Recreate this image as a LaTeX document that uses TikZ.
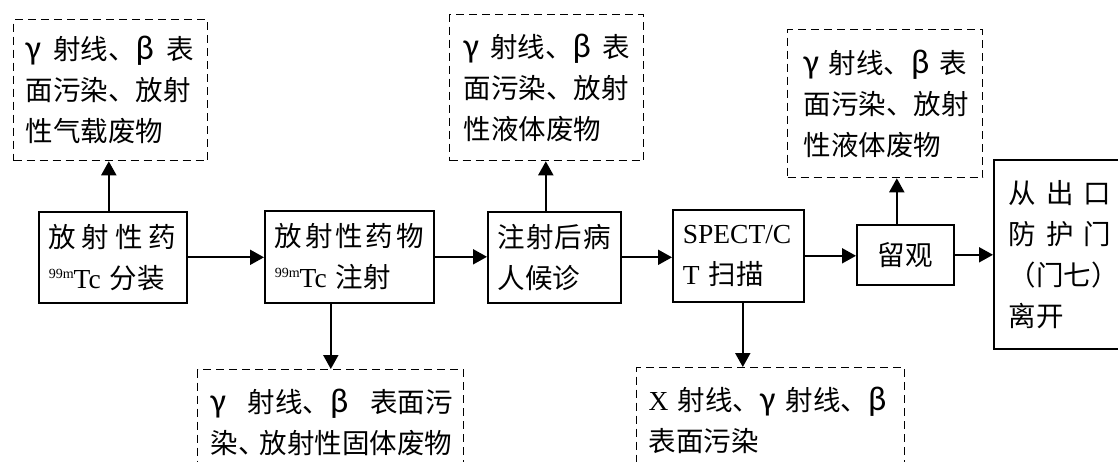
\documentclass[tikz,border=0pt]{standalone}
\usepackage{fontspec}
\setmainfont{Liberation Serif}
\newfontfamily\cjk{Noto Sans CJK SC}
\newfontfamily\tm{Liberation Serif}
\newfontfamily\gk[Scale=1.25]{Carlito}
\usetikzlibrary{arrows.meta}
\newcommand\jl[2]{\makebox[#1][l]{#2}}
\newcommand\iso{\raisebox{10pt}{\fontsize{14}{14}\selectfont\tm 99m}}
\begin{document}
\begin{tikzpicture}[x=1pt,y=-1pt,
  solidbox/.style={draw,line width=1.6pt,rectangle,anchor=north west,inner sep=0pt,align=left},
  dashbox/.style={draw,line width=1.3pt,dash pattern=on 8pt off 5pt,rectangle,anchor=north west,inner sep=0pt,align=left},
  txt/.style={font=\cjk\fontsize{27.5}{41}\selectfont},
  arr/.style={line width=2pt,-{Triangle[length=14pt,width=15pt]}}]
\useasboundingbox (0,0) rectangle (1118,461);

\node[dashbox,txt,minimum width=194pt,minimum height=141pt,text width=170pt] (d1) at (13,19)
 {\jl{168pt}{{\gk γ}\hfill{}射线、{\gk β}\hfill{}表}\\面污染、放射\\性气载废物};
\node[solidbox,txt,minimum width=148pt,minimum height=91pt,text width=128pt] (A) at (38,211)
 {\jl{127pt}{放\hfill{}射\hfill{}性\hfill{}药}\\\iso{\tm Tc }分装};
\node[solidbox,txt,minimum width=169pt,minimum height=92pt,text width=149pt] (B) at (264,210)
 {\jl{149pt}{放\hfill{}射\hfill{}性\hfill{}药\hfill{}物}\\\iso{\tm Tc }注射};
\node[dashbox,txt,minimum width=194pt,minimum height=146pt,text width=166pt] (d2) at (449,14)
 {\jl{166pt}{{\gk γ}\hfill{}射线、{\gk β}\hfill{}表}\\面污染、放射\\性液体废物};
\node[solidbox,txt,minimum width=133pt,minimum height=91pt,text width=113pt] (C) at (487,211)
 {\jl{113pt}{注\hfill{}射\hfill{}后\hfill{}病}\\人候诊};
\node[solidbox,txt,minimum width=131pt,minimum height=92pt,text width=111pt] (D) at (672,209)
 {{\tm SPECT/C}\\{\tm T }扫描};
\node[solidbox,txt,minimum width=97pt,minimum height=60pt,align=center] (E) at (856,224) {留观};
\node[dashbox,txt,minimum width=195pt,minimum height=148pt,text width=163pt] (d3) at (787,29)
 {\jl{163pt}{{\gk γ}\hfill{}射线、{\gk β}\hfill{}表}\\面污染、放射\\性液体废物};
\node[solidbox,txt,minimum width=140pt,minimum height=189pt,text width=110pt] (F) at (993,159)
 {\jl{102pt}{从\hfill{}出\hfill{}口}\\\jl{102pt}{防\hfill{}护\hfill{}门}\\（门七）\\离开};
\node[dashbox,txt,minimum width=266pt,minimum height=105pt,text width=240pt] (d4) at (197,369)
 {\jl{242pt}{{\gk γ}\hfill{}射线、{\gk β}\hfill{}表面污}\\\jl{242pt}{染、\hspace{-6pt}放射性固体废物}};
\node[dashbox,txt,minimum width=268pt,minimum height=105pt,text width=244pt] (d5) at (636,367)
 {{\tm X }射线、{\gk γ}\hspace{10pt}射线、{\gk β}\\表面污染};

\draw[arr] (A.east) -- (A.east -| B.west);
\draw[arr] (B.east) -- (B.east -| C.west);
\draw[arr] (C.east) -- (C.east -| D.west);
\draw[arr] (D.east) -- (D.east -| E.west);
\draw[arr] (E.east) -- (E.east -| F.west);
\draw[arr] ([xshift=-4pt]A.north) -- ([xshift=-4pt]A.north |- d1.south);
\draw[arr] ([xshift=-18.5pt]B.south) -- ([xshift=-18.5pt]B.south |- d4.north);
\draw[arr] ([xshift=-8.5pt]C.north) -- ([xshift=-8.5pt]C.north |- d2.south);
\draw[arr] ([xshift=4.5pt]D.south) -- ([xshift=4.5pt]D.south |- d5.north);
\draw[arr] ([xshift=-8.5pt]E.north) -- ([xshift=-8.5pt]E.north |- d3.south);
\end{tikzpicture}
\end{document}
